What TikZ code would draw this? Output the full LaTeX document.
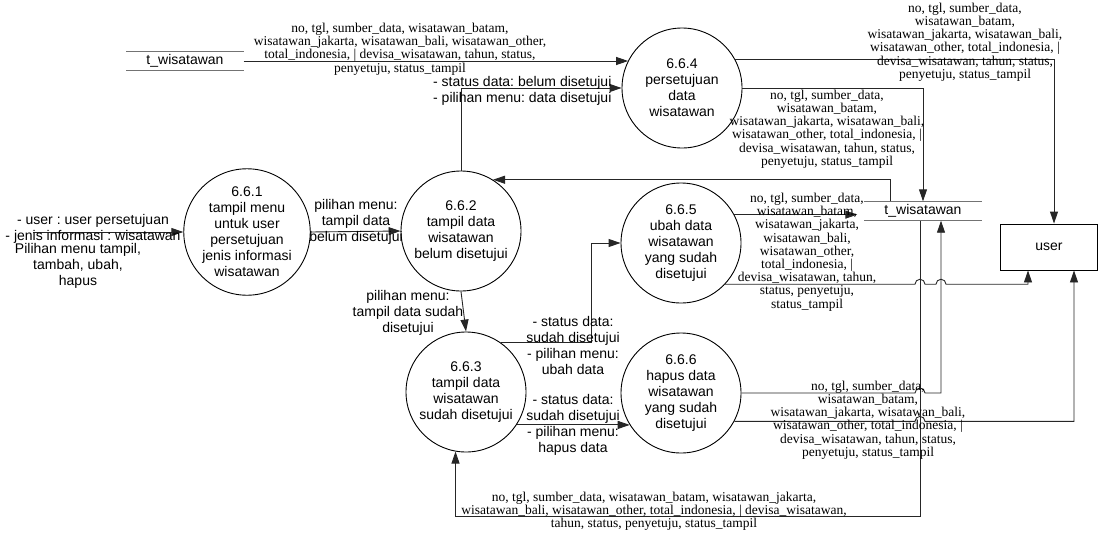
\documentclass[tikz,border=0pt]{standalone}
\usepackage{fontspec}
\setmainfont{Liberation Serif}
\newfontfamily\arialf{Liberation Sans}
\usetikzlibrary{arrows.meta}
\frenchspacing
\newcommand{\kolomwis}{no, tgl, sumber\_data,\\wisatawan\_batam,\\wisatawan\_jakarta, wisatawan\_bali,\\wisatawan\_other, total\_indonesia, |\\devisa\_wisatawan, tahun, status,\\penyetuju, status\_tampil}

\begin{document}
\begin{tikzpicture}[x=1pt, y=-1pt,  % DFD level 6.6
        proc/.style={circle, draw, line width=0.9pt, minimum size=120pt, inner sep=0pt, align=center, font=\arialf\fontsize{14}{16}\selectfont},
        store/.style={minimum width=117pt, minimum height=19pt, inner sep=0pt, font=\arialf\fontsize{14}{16}\selectfont},
        storeline/.style={draw=black!55, line width=1.2pt},
        ent/.style={draw, line width=0.9pt, minimum width=97pt, minimum height=46pt, font=\arialf\fontsize{14}{16}\selectfont},
        flow/.style={draw=black!85, line width=0.9pt, -{Triangle[length=12pt,width=8pt]}},
        lbl/.style={align=center, inner sep=0pt, font=\arialf\fontsize{14}{16}\selectfont},
        dat/.style={align=center, inner sep=0pt, font=\fontsize{13.5}{13.2}\selectfont}]
        \useasboundingbox (0,0) rectangle (1100,533);

        % proses
        \node[proc] (p661) at (247,232) {6.6.1\\tampil menu\\untuk user\\persetujuan\\jenis informasi\\wisatawan};
        \node[proc] (p662) at (461,231) {6.6.2\\tampil data\\wisatawan\\belum disetujui};
        \node[proc] (p663) at (466,392) {6.6.3\\tampil data\\wisatawan\\sudah disetujui};
        \node[proc] (p664) at (682,88) {6.6.4\\persetujuan\\data\\wisatawan};
        \node[proc] (p665) at (681,243) {6.6.5\\ubah data\\wisatawan\\yang sudah\\disetujui};
        \node[proc] (p666) at (681,393) {6.6.6\\hapus data\\wisatawan\\yang sudah\\disetujui};

        % data store dan entitas
        \node[store] (s1) at (185,61) {t\_wisatawan};
        \draw[storeline] (s1.north west) -- (s1.north east) (s1.south west) -- (s1.south east);
        \node[store] (s2) at (923,211) {t\_wisatawan};
        \draw[storeline] (s2.north west) -- (s2.north east) (s2.south west) -- (s2.south east);
        \node[ent] (user) at (1049,247) {user};
        \coordinate (usr) at (33,232);
        \coordinate (vdown) at ([xshift=-3pt]s2.south);
        \coordinate (vup) at ([xshift=18pt]s2.south);
        \coordinate (hopA) at ([xshift=-8pt]s2.south);
        \coordinate (hopB) at ([xshift=13pt]s2.south);

        % aliran
        \draw[flow] (usr) -- (p661.west);
        \draw[flow] (p661.east) -- (p662.west);
        \draw[flow] (p662.south) -- (p663.north);
        \draw[flow] (p662.north) |- (p664.west);
        \draw[flow] (s1.east) -- (s1.east -| p664.153);
        \draw[flow] (p664.28) -| ([xshift=5pt]user.north);
        \draw[flow] (p664.east) -| (s2.north);
        \draw[flow] ([xshift=-33pt]s2.north) |- (p662.58);
        \draw[flow, shorten >=7pt] (p665.28) -- (p665.28 -| s2.west);
        \draw[flow] (p665.-43) -- (hopA |- p665.-43) arc[start angle=180, end angle=0, radius=5pt]
                -- (hopB |- p665.-43) arc[start angle=180, end angle=0, radius=5pt] -| ([xshift=-21pt]user.south);
        \draw[flow] (vdown) -- ++(0,296) -| (p663.-100);
        \draw[flow] (p666.east) -- (hopA |- p666.east) arc[start angle=180, end angle=0, radius=5pt] -| (vup);
        \draw[flow] (p666.-28) -- (hopA |- p666.-28) arc[start angle=180, end angle=0, radius=5pt] -| ([xshift=25pt]user.south);
        \draw[flow] (p663.55) -- ++(91,0) |- (p665.west);
        \draw[flow] (p663.-33) -- (p663.-33 -| p666.212);

        % label
        \node[lbl] (l1) at (93,229) {- user : user persetujuan\\- jenis informasi : wisatawan};
        \node[lbl] (l2) at (78,266) {Pilihan menu tampil,\\tambah, ubah,\\hapus};
        \node[lbl] (l3) at (356,222) {pilihan menu:\\tampil data\\belum disetujui};
        \node[lbl] (l4) at (408,313) {pilihan menu:\\tampil data sudah\\disetujui};
        \node[lbl, align=left, anchor=west] (l5) at (433,91) {- status data: belum disetujui\\- pilihan menu: data disetujui};
        \node[lbl] (l10) at (573,345) {- status data:\\sudah disetujui\\- pilihan menu:\\ubah data};
        \node[lbl] (l11) at (573,425) {- status data:\\sudah disetujui\\- pilihan menu:\\hapus data};
        \node[dat] (l6) at (400,49) {no, tgl, sumber\_data, wisatawan\_batam,\\wisatawan\_jakarta, wisatawan\_bali, wisatawan\_other,\\total\_indonesia, | devisa\_wisatawan, tahun, status,\\penyetuju, status\_tampil};
        \node[dat] (l7) at (965,42) {\kolomwis};
        \node[dat] (l8) at (827,129) {\kolomwis};
        \node[dat] (l9) at (807,252) {no, tgl, sumber\_data,\\wisatawan\_batam,\\wisatawan\_jakarta,\\wisatawan\_bali,\\wisatawan\_other,\\total\_indonesia, |\\devisa\_wisatawan, tahun,\\status, penyetuju,\\status\_tampil};
        \node[dat] (l12) at (868,420) {\kolomwis};
        \node[dat] (l13) at (654,511) {no, tgl, sumber\_data, wisatawan\_batam, wisatawan\_jakarta,\\wisatawan\_bali, wisatawan\_other, total\_indonesia, | devisa\_wisatawan,\\tahun, status, penyetuju, status\_tampil};
    \end{tikzpicture}
\end{document}
